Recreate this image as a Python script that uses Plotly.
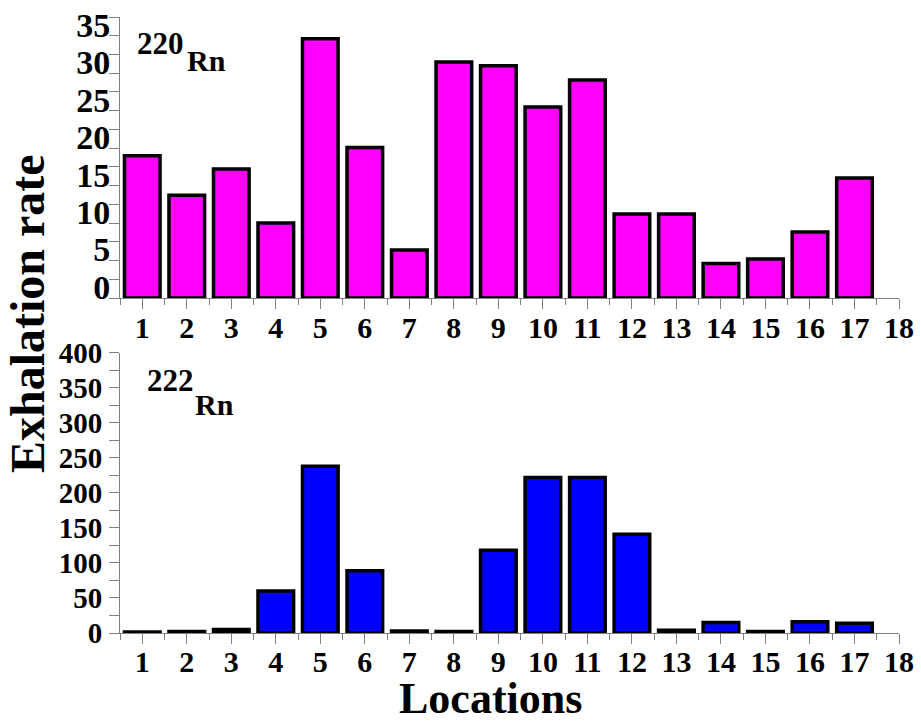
import plotly.graph_objects as go

locations = list(range(1, 18))
rn220 = [19.0, 13.7, 17.2, 10.0, 34.6, 20.1, 6.4, 31.5, 31.0, 25.5, 29.1, 11.2, 11.2, 4.6, 5.2, 8.8, 16.0]
rn222 = [1.5, 2.0, 5.0, 60.0, 238.0, 89.0, 3.0, 2.0, 118.0, 222.0, 222.0, 141.0, 4.0, 15.0, 2.0, 16.0, 14.0]
xticks = list(range(1, 19))
top_yticks = [0, 5, 10, 15, 20, 25, 30, 35]
bot_yticks = [0, 50, 100, 150, 200, 250, 300, 350, 400]

W, H = 921, 722
L, R, T, B = 120, 22, 17, 89
pw, ph = W - L - R, H - T - B

def px(x, y):
    return (x - L) / pw, (H - B - y) / ph

FONT = "Liberation Serif"
AX = "#808080"

fig = go.Figure()
fig.add_trace(go.Bar(x=locations, y=rn220, width=0.8, marker=dict(color="#FF00FF", line=dict(color="black", width=3.5)),
                     xaxis="x", yaxis="y", showlegend=False))
fig.add_trace(go.Bar(x=locations, y=rn222, width=0.8, marker=dict(color="#0000FF", line=dict(color="black", width=3.5)),
                     xaxis="x2", yaxis="y2", showlegend=False))

tickfont = dict(family=FONT, size=30, color="black", weight="bold")

def xax(anchor, standoff):
    return dict(anchor=anchor, domain=[0, 1], range=[0.5, 18], tickvals=xticks, ticktext=[str(v) for v in xticks],
                showline=True, linecolor=AX, linewidth=1, ticks="outside", ticklen=10, tickcolor=AX,
                minor=dict(dtick=0.5, tick0=0.5, ticks="outside", ticklen=6, tickcolor=AX),
                showgrid=False, zeroline=False, tickfont=tickfont, ticklabelstandoff=standoff, automargin=False)

top_lo = px(0, 298)[1]
bot_hi = px(0, 352.7)[1]

fig.update_layout(
    width=W, height=H, margin=dict(l=L, r=R, t=T, b=B, autoexpand=False),
    paper_bgcolor="white", plot_bgcolor="white",
    xaxis=xax("y", -7),
    xaxis2=xax("y2", -8),
    yaxis=dict(anchor="x", domain=[top_lo, 1], range=[0, 37.5], tickvals=top_yticks,
               showline=True, linecolor=AX, linewidth=1, ticks="outside", ticklen=10, tickcolor=AX,
               minor=dict(dtick=2.5, ticks="outside", ticklen=10, tickcolor=AX),
               showgrid=False, zeroline=False, tickfont=dict(family=FONT, size=34, color="black", weight="bold"),
               ticklabelshift=-11, ticklabelstandoff=-8, automargin=False),
    yaxis2=dict(anchor="x2", domain=[0, bot_hi], range=[0, 400], tickvals=bot_yticks,
                showline=True, linecolor=AX, linewidth=1, ticks="outside", ticklen=10, tickcolor=AX,
                minor=dict(dtick=25, ticks="outside", ticklen=10, tickcolor=AX),
                showgrid=False, zeroline=False, tickfont=dict(family=FONT, size=29, color="black", weight="bold"),
                ticklabelstandoff=1, automargin=False),
    bargap=0.2,
)

def ann(text, x, y, size, angle=0):
    xp, yp = px(x, y)
    fig.add_annotation(text=text, x=xp, y=yp, xref="paper", yref="paper", showarrow=False,
                       xanchor="center", yanchor="middle", textangle=angle,
                       font=dict(family=FONT, size=size, color="black", weight="bold"))

ann("220", 160, 43, 31)
ann("Rn", 206, 61, 30)
ann("222", 170, 380, 31)
ann("Rn", 214, 404, 30)
ann("Exhalation rate", 28, 314, 48, -90)
ann("Locations", 490, 698, 44)

fig.write_html("out.html", config={"displayModeBar": False})
with open("out.html", "r", encoding="utf-8") as f:
    html = f.read()
html = html.replace("<head>", "<head><style>html,body{margin:0;padding:0;overflow:hidden;}</style>", 1)
with open("out.html", "w", encoding="utf-8") as f:
    f.write(html)
